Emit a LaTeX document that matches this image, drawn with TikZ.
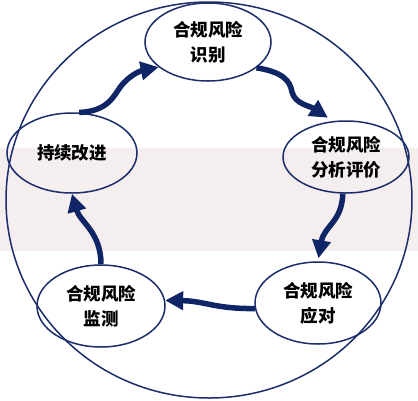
\documentclass[tikz,border=0pt]{standalone}
\usepackage{fontspec}
\newfontfamily\cjk{Noto Sans CJK SC}
\usetikzlibrary{shapes.geometric,arrows.meta}
\definecolor{navy}{HTML}{102566}
\definecolor{edge}{HTML}{1B2D6B}
\definecolor{band}{HTML}{F5EEEE}
\begin{document}
\begin{tikzpicture}[x=1pt,y=-1pt,
  stage/.style={ellipse, draw=edge, line width=1.5pt, inner sep=0pt,
    align=center, font=\cjk\bfseries\fontsize{17.5}{25}\selectfont, text=black},
  flow/.style={draw=navy, line width=5.5pt,
    -{Triangle[length=18pt,width=18pt]}, color=navy}]
\useasboundingbox (0,0) rectangle (418,400);
\fill[band] (0,148) rectangle (418,251);
\draw[edge, line width=1.5pt] (209,200) ellipse [x radius=203pt, y radius=198pt];
\node[stage, minimum width=126pt, minimum height=78pt] (T) at (208,42) {合规风险\\识别};
\node[stage, minimum width=126pt, minimum height=72pt] (R) at (346,157) {合规风险\\分析评价};
\node[stage, minimum width=130pt, minimum height=80pt] (L) at (72,153) {持续改进};
\node[stage, minimum width=128pt, minimum height=82pt] (B) at (101,306) {合规风险\\监测};
\node[stage, minimum width=126pt, minimum height=82pt] (D) at (318,303) {合规风险\\应对};
\draw[flow] (L.80) .. controls (108,111) and (113,97) .. (121,86)
  .. controls (130,75) and (140,71) .. (T.207);
\draw[flow, shorten >=6pt] (T.332) .. controls (282,72) and (290,80) .. (292,92)
  .. controls (295,104) and (310,106) .. (R.110);
\draw[flow, shorten >=3pt] (R.265) .. controls (342,222) and (324,226) .. (D.north);
\draw[flow] (D.185) .. controls (215,309) and (205,301) .. (B.5);
\draw[flow] (B.north) .. controls (101,232) and (80,222) .. (L.south);
\end{tikzpicture}
\end{document}
